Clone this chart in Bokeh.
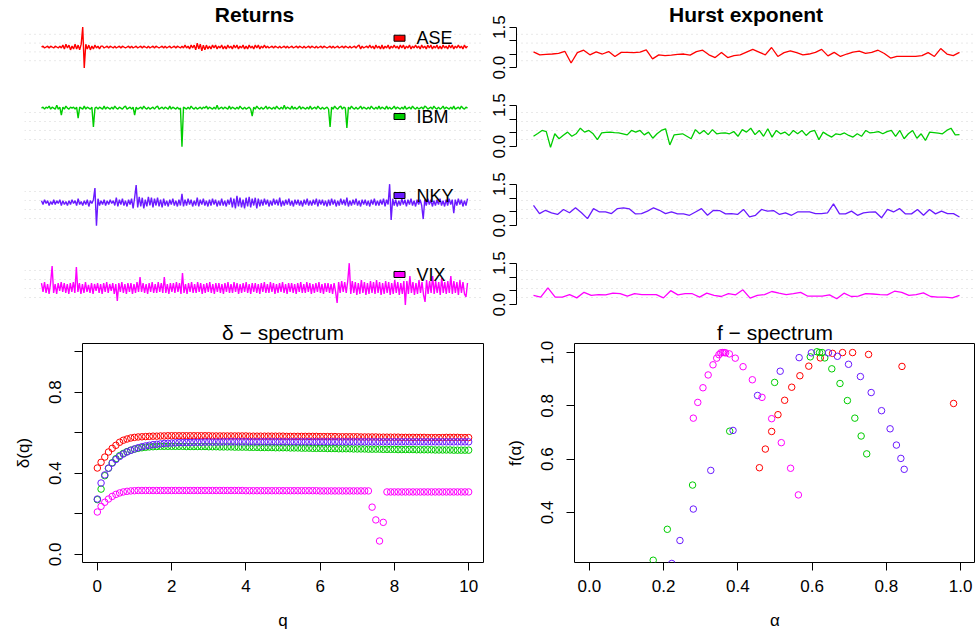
from bokeh.plotting import figure
from bokeh.layouts import column, row
from bokeh.models import Range1d, Span, FixedTicker
from bokeh.embed import file_html
from bokeh.resources import INLINE
from bokeh.core.properties import value

FONT = "Liberation Sans"

names = ["ASE", "IBM", "NKY", "VIX"]
colors = ["#FF0000", "#00CD00", "#6A1AFF", "#FF00FF"]

# ---------------- Returns (scaled daily returns) ----------------
ret_ase = [0,1,-1,0,1,-1,1,0,-1,1,0,-1,1,-1,
           2,-2,3,-1,2,-3,1,-2,3,-2,2,-3,3,
           21,-22,
           3,-2,2,-3,1,-2,2,-1,1,-2,1,
           1,-1,0,1,-1,1,0,-1,1,-1,0,1,-1,1,0,-1,0,1,-1,1,-1,0,1,-1,0,1,-1,1,0,-1,1,-1,0,1,-1,1,0,-1,0,1,-1,1,-1,0,1,-1,0,1,-1,1,0,-1,1,-1,
           2,-1,1,-2,2,-1,2,
           -3,4,-2,3,-4,2,-3,
           2,-2,1,-2,2,-1,2,-2,1,-1,2,-2,1,-2,2,-1,1,-2,2,-1,2,-2,1,-1,2,-2,1,-2,2,-1,1,-2,2,-1,2,-2,1,-1,2,-1,
           1,-1,0,1,-1,1,0,-1,1,-1,0,1,-1,1,-1,0,1,-1,0,1,-1,1,0,-1,1,-1,0,1,-1,1,0,-1,1,-1,0,1,-1,1,0,-1,0,1,-1,1,-1,0,1,-1,0,1,-1,1,0,-1,1,-1,0,1,-1,1,2,-2,1,-1,0,1,-1,
           2,-1,1,-2,2,-1,1,-2,2,-2,1,-1,2,-2,1,-1,2,-1,1,-2,2,-1,2,-2,1,-1,2,-2,1,-1,2,-1,1,-2,2,-1,1,-2,2,-1,2,-2,1,-1,2,-2,1,-2,2,-1,1,-2,2,-1,2,-2,1,-1,2,-1,1,-2,2,-1,1]

ret_ibm = [0,1,-1,1,0,2,-1,1,0,-1,3,-1,1,
           -7,
           1,-1,2,0,-1,1,0,1,-1,1,
           -10,
           1,0,-1,2,-1,1,0,-1,1,
           -19,
           0,1,-1,1,0,-1,2,-1,1,0,-1,1,-1,2,0,-1,1,0,-1,1,2,-1,0,1,-1,1,
           -7,
           1,-1,0,1,-1,2,0,-1,1,-1,0,1,-1,1,2,-1,0,1,-1,1,0,-1,2,-1,1,0,-1,1,-1,0,
           -39,
           1,0,-1,1,-1,2,0,-1,1,-1,0,1,-1,1,0,2,-1,1,0,-1,1,-1,3,-1,0,1,-1,1,0,-1,2,-1,1,0,-1,1,-1,2,0,-1,1,-1,0,1,-1,
           -8,
           1,-1,2,0,-1,1,-1,0,2,-1,1,0,-1,1,-1,2,0,-1,1,-1,3,-1,1,0,-1,2,-1,1,-1,0,2,-1,1,0,-1,1,-1,2,-1,0,1,-1,2,0,-1,1,-1,0,1,-1,
           -19,
           1,-1,2,0,-1,1,2,-1,1,0,
           -20,
           1,-1,2,0,-1,1,-1,0,2,-1,1,0,-1,1,-1,2,0,-1,1,-1,2,-1,1,0,-1,2,-1,1,-1,0,2,-1,1,0,-1,1,-1,2,-1,0,1,-1,2,0,-1,1,-1,0,1,-1,2,1,-1,0,1,-1,2,0,-1,1,-1,0,2,-1,1,0,-1,1,-1,2,-1,0,1,-1,2,0,-1,1,0]

ret_nky = [2,-2,3,-1,2,-3,1,-2,3,-2,2,-1,3,-3,2,-2,1,-3,2,-2,3,-1,2,-3,4,-2,1,-3,2,-2,3,-4,2,-1,3,
           15,-24,
           4,-3,2,-2,3,-3,2,-2,3,-1,2,-3,5,-4,3,-2,4,-3,2,-4,3,-2,4,-6,5,
           18,
           -5,6,-4,5,-6,3,-4,6,-3,5,-5,4,-3,5,-4,3,-5,4,-3,2,-4,3,-2,4,-3,2,-4,3,-3,
           9,
           -4,3,-3,4,-2,3,-4,2,-3,5,-4,3,-2,4,-3,2,-4,3,-3,4,-2,3,-4,2,-3,4,-3,2,-4,3,-2,
           5,-5,4,-6,7,-4,5,-5,3,-6,5,-4,6,-5,4,-3,5,-6,4,-4,
           3,-3,4,-2,3,-4,2,-3,4,-2,3,-3,5,-4,2,-3,3,-2,4,-3,2,-4,3,-2,3,-3,2,-4,3,-2,4,-3,2,-3,3,-2,4,-4,3,-2,3,-3,2,-4,3,-3,4,-2,3,-4,2,-3,4,-2,3,-3,5,-4,2,-3,3,-2,4,-3,2,-4,3,-2,3,-3,2,-4,3,-2,4,-3,2,-3,3,-2,4,-4,3,-2,
           19,-18,
           4,-3,3,-4,2,-3,4,-2,3,-4,3,-2,4,-3,2,-4,3,-2,3,-3,
           -17,
           3,-3,4,-2,3,-4,2,-3,3,-2,4,-3,2,-4,3,-3,4,-2,3,
           -11,
           3,-3,4,-2,3,-4,2,-3,4]

ret_vix = [5,-4,6,-5,4,-6,5,
           22,
           -5,4,-6,5,-3,6,-4,5,-5,4,-6,5,-4,6,-5,
           21,
           -4,5,-6,4,-5,6,-4,3,-5,5,-6,4,-3,5,-5,4,-6,5,-4,6,-5,4,-3,5,-6,4,
           -13,
           5,-4,6,-5,4,-6,5,-4,5,-6,4,-5,6,-4,
           11,
           -4,5,-5,4,-6,5,-4,6,-5,4,-5,6,-4,5,-5,
           11,
           -5,4,-6,5,-4,5,-5,6,-4,5,-6,
           15,
           -5,4,-6,5,-4,6,-5,4,-5,6,-4,5,-6,4,-5,5,-4,6,-5,4,-6,5,-4,5,-5,4,-6,5,-4,6,-5,4,-5,6,-4,5,-6,4,-5,5,-4,6,-5,4,-6,5,-4,5,-5,4,-6,5,-4,6,-5,4,-5,6,-4,5,-6,4,-5,5,-4,6,-5,4,-6,5,-4,5,-5,4,-6,5,-4,6,-5,4,-5,6,-4,5,-6,4,-5,5,-4,6,-5,4,-6,5,-4,5,-5,4,-6,5,-4,
           -15,
           6,-5,7,-4,6,-5,7,
           25,
           -6,7,-5,6,-7,5,-6,8,-5,6,-7,5,-6,7,-5,6,-6,8,-5,6,-7,5,-6,7,-5,6,-7,5,-6,8,-5,6,-7,5,-6,7,
           -17,
           7,-6,12,-5,6,-7,5,-6,8,-5,6,-7,
           -14,
           8,-6,7,-5,12,-6,7,-5,6,-7,10,-5,6,-6,7,-5,12,-6,7,-5,6,-7,8,-5,6,-6,
           -9,
           5]

# ---------------- Hurst exponent (rolling windows) ----------------
hurst_ase = [0.59,0.48,0.50,0.51,0.53,0.61,0.18,0.56,0.65,0.48,0.59,0.51,0.60,0.42,0.57,0.57,0.56,
             0.58,0.66,0.33,0.48,0.45,0.47,0.50,0.51,0.47,0.60,0.65,0.48,0.38,0.57,0.38,0.45,0.48,
             0.58,0.68,0.58,0.48,0.75,0.42,0.56,0.63,0.56,0.48,0.51,0.57,0.68,0.44,0.57,0.42,0.51,
             0.58,0.62,0.53,0.57,0.65,0.53,0.36,0.42,0.42,0.42,0.42,0.45,0.56,0.42,0.71,0.51,0.45,0.57]

hurst_ibm = [0.38,0.48,0.59,0.55,-0.02,0.47,0.29,0.42,0.53,0.38,0.47,0.67,0.53,0.59,0.47,0.26,0.50,
             0.52,0.53,0.51,0.50,0.47,0.43,0.59,0.53,0.59,0.43,0.53,0.31,0.47,0.59,0.65,0.07,0.43,
             0.45,0.47,0.38,0.29,0.62,0.47,0.59,0.44,0.62,0.47,0.49,0.50,0.47,0.55,0.38,0.62,0.53,
             0.67,0.44,0.59,0.38,0.65,0.35,0.59,0.47,0.53,0.41,0.59,0.47,0.59,0.41,0.55,0.59,0.26,
             0.53,0.43,0.35,0.47,0.44,0.50,0.41,0.35,0.47,0.38,0.59,0.50,0.52,0.55,0.47,0.55,0.59,
             0.38,0.59,0.29,0.47,0.59,0.31,0.47,0.23,0.53,0.51,0.49,0.47,0.59,0.67,0.43,0.44]

hurst_nky = [0.74,0.44,0.56,0.47,0.41,0.59,0.47,0.65,0.47,0.26,0.62,0.50,0.50,0.44,0.62,0.65,0.61,
             0.43,0.44,0.53,0.65,0.56,0.44,0.50,0.43,0.43,0.38,0.50,0.62,0.38,0.56,0.55,0.43,0.44,
             0.41,0.59,0.32,0.38,0.59,0.53,0.55,0.41,0.47,0.38,0.50,0.50,0.50,0.44,0.44,0.47,0.79,
             0.43,0.43,0.53,0.38,0.47,0.49,0.50,0.29,0.59,0.50,0.62,0.43,0.43,0.59,0.38,0.59,0.43,
             0.53,0.44,0.44,0.32]

hurst_vix = [0.34,0.28,0.61,0.28,0.28,0.37,0.25,0.45,0.34,0.37,0.36,0.42,0.40,0.31,0.40,0.37,0.37,
             0.37,0.25,0.51,0.36,0.40,0.40,0.28,0.42,0.34,0.30,0.40,0.36,0.54,0.24,0.34,0.37,0.48,
             0.42,0.37,0.40,0.45,0.31,0.31,0.31,0.36,0.22,0.42,0.30,0.31,0.40,0.39,0.37,0.36,0.49,
             0.45,0.34,0.37,0.43,0.30,0.28,0.28,0.25,0.34]

# ---------------- delta-spectrum ----------------
q_vals = [round(0.1 * i, 1) for i in range(101)]

delta_ase = [0.426,0.454,0.480,0.505,0.523,0.538,0.553,0.563,0.569,0.574,
             0.577,0.579,0.580,0.581,0.582,0.583,0.583,0.584,0.584,0.585,
             0.585,0.585,0.585,0.585,0.585,0.585,0.585,0.585,0.585,0.585,
             0.585,0.584,0.584,0.584,0.584,0.584,0.584,0.584,0.584,0.584,
             0.584,0.583,0.583,0.583,0.583,0.583,0.583,0.583,0.583,0.583,
             0.583,0.582,0.582,0.582,0.582,0.582,0.582,0.582,0.582,0.582,
             0.581,0.581,0.581,0.581,0.581,0.580,0.580,0.580,0.580,0.580,
             0.580,0.579,0.579,0.579,0.579,0.579,0.578,0.578,0.578,0.578,
             0.578,0.578,0.577,0.577,0.577,0.577,0.577,0.577,0.577,0.576,
             0.576,0.576,0.576,0.576,0.577,0.577,0.577,0.577,0.576,0.576,
             0.576]

delta_ibm = [0.270,0.322,0.388,0.425,0.452,0.472,0.487,0.498,0.507,0.514,
             0.519,0.523,0.526,0.528,0.530,0.531,0.532,0.533,0.533,0.533,
             0.533,0.533,0.533,0.533,0.532,0.532,0.532,0.532,0.532,0.532,
             0.531,0.531,0.531,0.530,0.530,0.530,0.530,0.529,0.529,0.529,
             0.529,0.528,0.528,0.528,0.527,0.527,0.527,0.527,0.526,0.526,
             0.526,0.526,0.525,0.525,0.525,0.524,0.524,0.524,0.523,0.523,
             0.523,0.523,0.522,0.522,0.522,0.521,0.521,0.521,0.521,0.520,
             0.520,0.520,0.520,0.519,0.519,0.519,0.519,0.518,0.518,0.518,
             0.518,0.517,0.517,0.517,0.517,0.517,0.516,0.516,0.516,0.516,
             0.516,0.515,0.515,0.515,0.515,0.515,0.514,0.514,0.514,0.514,
             0.514]

delta_nky = [0.273,0.352,0.392,0.425,0.450,0.468,0.483,0.495,0.505,0.513,
             0.520,0.526,0.531,0.535,0.538,0.541,0.543,0.545,0.547,0.548,
             0.549,0.550,0.551,0.551,0.552,0.552,0.553,0.553,0.553,0.554,
             0.554,0.554,0.554,0.554,0.555,0.555,0.555,0.555,0.555,0.555,
             0.555,0.555,0.555,0.555,0.555,0.555,0.555,0.555,0.555,0.555,
             0.555,0.555,0.555,0.555,0.555,0.555,0.555,0.555,0.555,0.555,
             0.555,0.555,0.555,0.555,0.555,0.555,0.555,0.555,0.555,0.555,
             0.555,0.555,0.555,0.555,0.555,0.555,0.555,0.555,0.555,0.555,
             0.555,0.555,0.555,0.555,0.555,0.555,0.555,0.555,0.555,0.555,
             0.555,0.555,0.555,0.555,0.555,0.555,0.555,0.555,0.555,0.555,
             0.555]

delta_vix = [0.209,0.237,0.257,0.273,0.286,0.296,0.303,0.308,0.311,0.313,
             0.314,0.315,0.315,0.315,0.315,0.315,0.315,0.315,0.315,0.315,
             0.315,0.315,0.315,0.315,0.315,0.315,0.315,0.315,0.315,0.315,
             0.315,0.315,0.315,0.315,0.315,0.315,0.315,0.315,0.315,0.315,
             0.314,0.314,0.314,0.314,0.314,0.314,0.314,0.314,0.314,0.314,
             0.314,0.314,0.314,0.314,0.314,0.314,0.314,0.314,0.314,0.314,
             0.313,0.313,0.313,0.313,0.313,0.313,0.313,0.313,0.313,0.313,
             0.313,0.313,0.313,0.313,0.233,0.170,0.066,0.158,0.308,0.308,
             0.308,0.308,0.308,0.308,0.308,0.308,0.308,0.308,0.308,0.308,
             0.308,0.308,0.308,0.308,0.308,0.308,0.308,0.308,0.308,0.308,
             0.308]

# ---------------- f-spectrum ----------------
alpha_ase = [0.458,0.474,0.491,0.508,0.526,0.545,0.567,0.591,0.622,0.655,0.682,0.709,0.752,0.842,0.981]
f_ase     = [0.568,0.638,0.704,0.767,0.821,0.870,0.913,0.949,0.980,0.997,1.000,1.000,0.993,0.948,0.809]

alpha_ibm = [0.172,0.210,0.278,0.378,0.499,0.595,0.613,0.620,0.627,0.634,0.653,0.675,0.695,0.715,0.732,0.747]
f_ibm     = [0.221,0.337,0.503,0.705,0.888,0.984,1.003,1.000,1.000,0.980,0.939,0.884,0.820,0.754,0.687,0.620]

alpha_nky = [0.222,0.244,0.280,0.327,0.387,0.453,0.514,0.565,0.598,0.644,0.668,0.698,0.730,0.759,0.787,0.810,0.827,0.839,0.848]
f_nky     = [0.209,0.295,0.413,0.558,0.708,0.839,0.930,0.981,0.999,0.999,0.986,0.956,0.910,0.850,0.782,0.714,0.653,0.603,0.562]

alpha_vix = [0.280,0.292,0.306,0.320,0.333,0.343,0.349,0.354,0.359,0.363,0.367,0.377,0.393,0.414,0.439,0.465,0.491,0.517,0.542,0.563]
f_vix     = [0.754,0.813,0.868,0.916,0.954,0.979,0.992,0.999,1.000,1.000,0.999,0.995,0.979,0.947,0.898,0.832,0.752,0.662,0.566,0.466]

returns = [ret_ase, ret_ibm, ret_nky, ret_vix]
hursts = [hurst_ase, hurst_ibm, hurst_nky, hurst_vix]
deltas = [delta_ase, delta_ibm, delta_nky, delta_vix]
alphas = [alpha_ase, alpha_ibm, alpha_nky, alpha_vix]
fs = [f_ase, f_ibm, f_nky, f_vix]

# ---------------- layout geometry (pixels) ----------------
ROW_H = 79
FRAME_H = 45
LINE_SPAN = 426
PAD = 17
GRID_COLOR = "#D3D3D3"


def add_grid(p, y0, y1):
    for k in range(1, 5):
        p.add_layout(Span(location=y0 + k * (y1 - y0) / 5.0, dimension="width",
                          line_color=GRID_COLOR, line_dash="1 4", line_width=1,
                          level="underlay"))


def style_title(p, bold=True):
    p.title.align = "center"
    p.title.text_font = FONT
    p.title.text_font_size = "21px"
    p.title.text_font_style = "bold" if bold else "normal"
    p.title.text_color = "black"
    p.title.standoff = 0


ret_figs = []
hurst_figs = []
for i in range(4):
    vals = returns[i]
    n = len(vals)
    ppu = LINE_SPAN / (n - 1)
    xs = list(range(n))
    lo, hi = min(vals), max(vals)
    pad_y = 0.04 * (hi - lo)
    y0, y1 = lo - pad_y, hi + pad_y
    x0, x1 = -PAD / ppu, (n - 1) + PAD / ppu
    p = figure(width=484, height=ROW_H, output_backend="svg", toolbar_location=None,
               x_range=Range1d(x0, x1), y_range=Range1d(y0, y1),
               x_axis_location=None, y_axis_location=None,
               title="Returns" if i == 0 else None,
               min_border_left=24, min_border_right=0, min_border_top=24, min_border_bottom=10)
    p.outline_line_color = None
    p.grid.visible = False
    if i == 0:
        style_title(p)
    add_grid(p, y0, y1)
    p.line(xs, vals, line_color=colors[i], line_width=1.4)
    # legend entry (filled box + name)
    ly = y1 - 13.0 / FRAME_H * (y1 - y0)
    lx_box = x0 + (399 - 24) / 460.0 * (x1 - x0)
    lx_txt = x0 + (416 - 24) / 460.0 * (x1 - x0)
    p.rect(x=[lx_box], y=[ly], width=11, height=6, width_units="screen", height_units="screen",
           fill_color=colors[i], line_color="black", line_width=1)
    p.text(x=[lx_txt], y=[ly], text=[names[i]], text_font=value(FONT), text_font_size="18px",
           text_baseline="middle", text_align="left", text_color="black")
    ret_figs.append(p)

    hv = hursts[i]
    N = len(hv)
    ppu_h = LINE_SPAN / (N - 1)
    hx0 = 1 - PAD / ppu_h
    hx1 = hx0 + 459 / ppu_h
    h = figure(width=491, height=ROW_H, output_backend="svg", toolbar_location=None,
               x_range=Range1d(hx0, hx1), y_range=Range1d(-0.06, 1.56),
               x_axis_location=None, y_axis_location="left",
               title="Hurst exponent" if i == 0 else None,
               min_border_left=32, min_border_right=0, min_border_top=24, min_border_bottom=10)
    h.outline_line_color = None
    h.grid.visible = False
    if i == 0:
        style_title(h)
    add_grid(h, -0.06, 1.56)
    h.line(list(range(1, N + 1)), hv, line_color=colors[i], line_width=1.3)
    ax = h.yaxis[0]
    ax.ticker = FixedTicker(ticks=[0, 0.5, 1, 1.5])
    ax.major_label_overrides = {0: "0.0", 0.5: "", 1: "", 1.5: "1.5"}
    ax.bounds = (0, 1.5)
    ax.major_label_orientation = "vertical"
    ax.major_tick_out = 7
    ax.major_tick_in = 0
    ax.minor_tick_line_color = None
    ax.major_tick_line_color = "black"
    ax.major_label_standoff = 4
    ax.major_label_text_font = FONT
    ax.major_label_text_font_size = "17px"
    ax.major_label_text_color = "black"
    ax.axis_line_color = "black"
    hurst_figs.append(h)


def style_axes(p, xlabel, ylabel, xticks, xover, yticks, yover):
    xa = p.xaxis[0]
    ya = p.yaxis[0]
    for a in (xa, ya):
        a.axis_line_color = None
        a.major_tick_out = 8
        a.major_tick_in = 0
        a.major_tick_line_color = "black"
        a.minor_tick_line_color = None
        a.major_label_text_font = FONT
        a.major_label_text_font_size = "17px"
        a.major_label_text_color = "black"
        a.axis_label_text_font = FONT
        a.axis_label_text_font_size = "17px"
        a.axis_label_text_font_style = "normal"
        a.axis_label_text_color = "black"
    xa.ticker = FixedTicker(ticks=xticks)
    if xover:
        xa.major_label_overrides = xover
    xa.major_label_standoff = 9
    xa.axis_label = xlabel
    xa.axis_label_standoff = 16
    ya.ticker = FixedTicker(ticks=yticks)
    ya.major_label_overrides = yover
    ya.major_label_orientation = "vertical"
    ya.major_label_standoff = 13
    ya.axis_label = ylabel
    ya.axis_label_standoff = 14


def bottom_fig(title, width, left, right, xr, yr):
    p = figure(width=width, height=316, output_backend="svg", toolbar_location=None,
               x_range=Range1d(*xr), y_range=Range1d(*yr), title=title,
               min_border_left=left, min_border_right=right, min_border_top=27,
               min_border_bottom=70)
    p.grid.visible = False
    p.outline_line_color = "black"
    p.outline_line_width = 1
    style_title(p, bold=False)
    return p


pd_ = bottom_fig("\u03b4 \u2212 spectrum", 487, 82, 4, (-0.4, 10.4), (-0.04, 1.04))
for i in range(4):
    pd_.scatter(q_vals, deltas[i], marker="circle", size=6.5, fill_color=None,
                line_color=colors[i], line_width=1)
style_axes(pd_, "q", "\u03b4(q)", [0, 2, 4, 6, 8, 10], None,
           [0, 0.2, 0.4, 0.6, 0.8, 1],
           {0: "0.0", 0.2: "", 0.4: "0.4", 0.6: "", 0.8: "0.8", 1: ""})

pf = bottom_fig("f \u2212 spectrum", 488, 87, 0, (-0.04, 1.04), (0.2125, 1.034))
for i in range(4):
    pf.scatter(alphas[i], fs[i], marker="circle", size=6.5, fill_color=None,
               line_color=colors[i], line_width=1)
style_axes(pf, "\u03b1", "f(\u03b1)", [0, 0.2, 0.4, 0.6, 0.8, 1],
           {0: "0.0", 0.2: "0.2", 0.4: "0.4", 0.6: "0.6", 0.8: "0.8", 1: "1.0"},
           [0.2, 0.4, 0.6, 0.8, 1],
           {0.2: "0.2", 0.4: "0.4", 0.6: "0.6", 0.8: "0.8", 1: "1.0"})

layout = column(row(column(*ret_figs), column(*hurst_figs)), row(pd_, pf))

open("out.html", "w").write(file_html(layout, INLINE))
